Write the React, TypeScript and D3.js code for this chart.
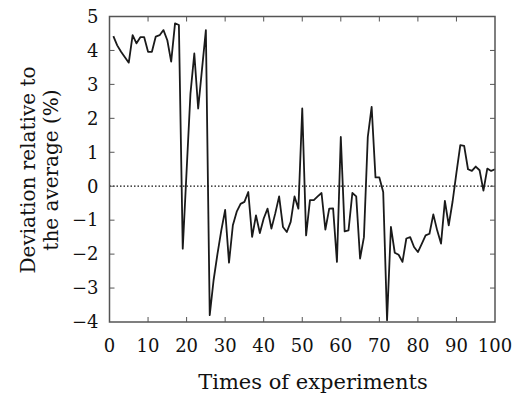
import * as d3 from 'd3'

const deviation = [
  4.42, 4.15, 3.96, 3.8, 3.64, 4.45, 4.21, 4.39, 4.39, 3.96,
  3.96, 4.41, 4.45, 4.6, 4.3, 3.67, 4.8, 4.75, -1.84, 0.45,
  2.73, 3.91, 2.29, 3.45, 4.6, -3.8, -2.77, -2.0, -1.3, -0.7,
  -2.25, -1.15, -0.75, -0.52, -0.46, -0.17, -1.49, -0.86, -1.38, -0.95,
  -0.66, -1.25, -0.8, -0.3, -1.2, -1.35, -1.05, -0.3, -0.66, 2.29,
  -1.45, -0.41, -0.41, -0.3, -0.2, -1.28, -0.66, -0.65, -2.23, 1.45,
  -1.33, -1.3, -0.2, -0.3, -2.13, -1.5, 1.45, 2.34, 0.26, 0.26,
  -0.17, -3.95, -1.2, -1.96, -2.02, -2.23, -1.54, -1.5, -1.79, -1.94,
  -1.7, -1.45, -1.4, -0.83, -1.3, -1.69, -0.43, -1.15, -0.45, 0.4,
  1.21, 1.19, 0.5, 0.45, 0.58, 0.47, -0.13, 0.52, 0.45, 0.5,
]
const experiments = deviation.map((_, i) => i + 1)

const xTicks = [0, 10, 20, 30, 40, 50, 60, 70, 80, 90, 100]
const yTicks = [-4, -3, -2, -1, 0, 1, 2, 3, 4, 5]

const width = 513
const height = 394
const margin = { top: 16.5, right: 18, bottom: 72, left: 109.5 }
const font = '"DejaVu Serif", serif'

export default function App() {
  const x = d3.scaleLinear().domain([0, 100]).range([margin.left, width - margin.right])
  const y = d3.scaleLinear().domain([-4, 5]).range([height - margin.bottom, margin.top])

  const line = d3
    .line<number>()
    .x((_, i) => x(experiments[i]))
    .y((d) => y(d))

  const [x0, x1] = x.range()
  const [y0, y1] = y.range()
  const tick = 5
  const fmt = (v: number) => (v < 0 ? `\u2212${Math.abs(v)}` : `${v}`)

  return (
    <svg
      width={width}
      height={height}
      style={{ position: 'absolute', left: 0, top: 0, background: '#fff' }}
    >
      {/* zero reference */}
      <line
        x1={x(0)}
        x2={x(100)}
        y1={y(0)}
        y2={y(0)}
        stroke="#111"
        strokeWidth={1.3}
        strokeDasharray="1.5,2"
      />

      {/* ticks on all four sides, pointing inward */}
      {xTicks.slice(1, -1).map((t) => (
        <g key={'xt' + t} stroke="#555" strokeWidth={1}>
          <line x1={x(t)} x2={x(t)} y1={y0} y2={y0 - tick} />
          <line x1={x(t)} x2={x(t)} y1={y1} y2={y1 + tick} />
        </g>
      ))}
      {yTicks.slice(1, -1).map((t) => (
        <g key={'yt' + t} stroke="#555" strokeWidth={1}>
          <line x1={x0} x2={x0 + tick} y1={y(t)} y2={y(t)} />
          <line x1={x1} x2={x1 - tick} y1={y(t)} y2={y(t)} />
        </g>
      ))}

      <path
        d={line(deviation) || ''}
        fill="none"
        stroke="#1a1a1a"
        strokeWidth={1.8}
        strokeLinejoin="round"
      />

      <rect
        x={x0}
        y={y1}
        width={x1 - x0}
        height={y0 - y1}
        fill="none"
        stroke="#555"
        strokeWidth={1.5}
      />

      {xTicks.map((t) => (
        <text
          key={'xl' + t}
          x={x(t)}
          y={y0 + 30}
          textAnchor="middle"
          fontFamily={font}
          fontSize={18}
          fill="#111"
        >
          {t}
        </text>
      ))}
      {yTicks.map((t) => (
        <text
          key={'yl' + t}
          x={x0 - 11}
          y={y(t)}
          dy="0.35em"
          textAnchor="end"
          fontFamily={font}
          fontSize={18}
          fill="#111"
        >
          {fmt(t)}
        </text>
      ))}

      <text
        x={313}
        y={389}
        textAnchor="middle"
        fontFamily={font}
        fontSize={21}
        fill="#111"
      >
        Times of experiments
      </text>
      <text
        transform={`translate(35,170) rotate(-90)`}
        textAnchor="middle"
        fontFamily={font}
        fontSize={20}
        fill="#111"
      >
        Deviation relative to
      </text>
      <text
        transform={`translate(58,170) rotate(-90)`}
        textAnchor="middle"
        fontFamily={font}
        fontSize={20}
        fill="#111"
      >
        the average (%)
      </text>
    </svg>
  )
}
